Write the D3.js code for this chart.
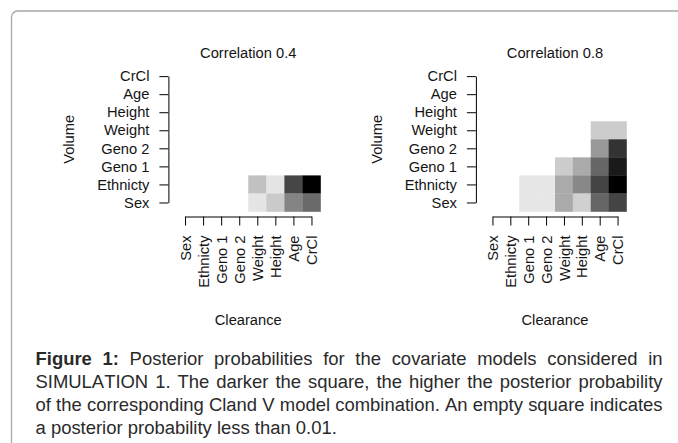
<!DOCTYPE html>
<html>
<head>
<meta charset="utf-8">
<script src="https://cdn.jsdelivr.net/npm/d3@7"></script>
<style>
  body { margin: 0; background: #fff; }
  .wrap { position: relative; width: 678px; height: 443px; overflow: hidden; }
  .caption {
    position: absolute; left: 35.5px; top: 347px; width: 627px;
    font-family: "Liberation Sans", Arial, sans-serif; font-size: 18.45px;
    font-kerning: none;
    line-height: 23px; color: #2a2a2a; text-align: justify;
  }
</style>
</head>
<body>
<div class="wrap"></div>
<script>
// covariate names, bottom-to-top on Volume axis, left-to-right on Clearance axis
const covariates = ["Sex", "Ethnicty", "Geno 1", "Geno 2", "Weight", "Height", "Age", "CrCl"];
const titles = ["Correlation 0.4", "Correlation 0.8"];

// posterior probabilities, cells < 0.01 left empty
const probs04 = [
  { clearance: "Weight", volume: "Ethnicty", p: 0.07 },
  { clearance: "Height", volume: "Ethnicty", p: 0.03 },
  { clearance: "Age", volume: "Ethnicty", p: 0.21 },
  { clearance: "CrCl", volume: "Ethnicty", p: 0.29 },
  { clearance: "Weight", volume: "Sex", p: 0.03 },
  { clearance: "Height", volume: "Sex", p: 0.06 },
  { clearance: "Age", volume: "Sex", p: 0.14 },
  { clearance: "CrCl", volume: "Sex", p: 0.17 }
];

const probs08 = [
  { clearance: "Age", volume: "Weight", p: 0.024 },
  { clearance: "CrCl", volume: "Weight", p: 0.024 },
  { clearance: "Age", volume: "Geno 2", p: 0.048 },
  { clearance: "CrCl", volume: "Geno 2", p: 0.096 },
  { clearance: "Weight", volume: "Geno 1", p: 0.024 },
  { clearance: "Height", volume: "Geno 1", p: 0.04 },
  { clearance: "Age", volume: "Geno 1", p: 0.072 },
  { clearance: "CrCl", volume: "Geno 1", p: 0.108 },
  { clearance: "Geno 1", volume: "Ethnicty", p: 0.012 },
  { clearance: "Geno 2", volume: "Ethnicty", p: 0.012 },
  { clearance: "Weight", volume: "Ethnicty", p: 0.04 },
  { clearance: "Height", volume: "Ethnicty", p: 0.056 },
  { clearance: "Age", volume: "Ethnicty", p: 0.088 },
  { clearance: "CrCl", volume: "Ethnicty", p: 0.12 },
  { clearance: "Geno 1", volume: "Sex", p: 0.012 },
  { clearance: "Geno 2", volume: "Sex", p: 0.012 },
  { clearance: "Weight", volume: "Sex", p: 0.04 },
  { clearance: "Height", volume: "Sex", p: 0.022 },
  { clearance: "Age", volume: "Sex", p: 0.072 },
  { clearance: "CrCl", volume: "Sex", p: 0.088 }
];

const captionBold = "Figure 1:";
const captionText = " Posterior probabilities for the covariate models considered in SIMULATION 1. The darker the square, the higher the posterior probability of the corresponding Cland V model combination. An empty square indicates a posterior probability less than 0.01.";

const w = 678, h = 443;
const font = "'Liberation Sans', Arial, Helvetica, sans-serif";
const ink = "#151515";

const wrap = d3.select(".wrap");
const svg = wrap.append("svg").attr("width", w).attr("height", h);

// journal frame (rounded, open to the right / bottom)
svg.append("rect")
  .attr("x", 11.5).attr("y", 11)
  .attr("width", 720).attr("height", 480)
  .attr("rx", 6)
  .attr("fill", "none")
  .attr("stroke", "#a8a8a8")
  .attr("stroke-width", 1.3);

const panels = [
  { title: titles[0], data: probs04, x0: 176, x1: 320.5 },
  { title: titles[1], data: probs08, x0: 483.5, x1: 626.5 }
];
const yBot = 211.5, yTop = 67.1;
const axisY = 216.5, axisGap = 7.6, tick = 9;

panels.forEach((pn) => {
  const g = svg.append("g")
    .style("font-family", font)
    .style("font-size", "14.7px")
    .attr("fill", ink);

  const x = d3.scaleBand().domain(covariates).range([pn.x0, pn.x1]);
  const y = d3.scaleBand().domain(covariates).range([yBot, yTop]);
  const shade = d3.scaleLinear()
    .domain([0, d3.max(pn.data, (d) => d.p)])
    .range(["#ffffff", "#000000"]);

  g.selectAll("rect.cell")
    .data(pn.data)
    .enter()
    .append("rect")
    .attr("class", "cell")
    .attr("x", (d) => x(d.clearance))
    .attr("y", (d) => y(d.volume))
    .attr("width", x.bandwidth() + 0.3)
    .attr("height", y.bandwidth() + 0.3)
    .attr("fill", (d) => shade(d.p));

  // axes span first to last tick, like R
  const xa = d3.scalePoint().domain(covariates)
    .range([x(covariates[0]) + x.bandwidth() / 2, x(covariates[7]) + x.bandwidth() / 2]);
  const ya = d3.scalePoint().domain(covariates)
    .range([y(covariates[0]) + y.bandwidth() / 2, y(covariates[7]) + y.bandwidth() / 2]);

  const gx = g.append("g")
    .attr("transform", `translate(0, ${axisY})`)
    .call(d3.axisBottom(xa).tickSize(tick).tickSizeOuter(0));
  gx.selectAll("text")
    .attr("transform", "rotate(-90)")
    .attr("x", -19)
    .attr("y", 0)
    .attr("dy", "0.35em")
    .style("text-anchor", "end");

  const gy = g.append("g")
    .attr("transform", `translate(${pn.x0 - axisGap}, 0)`)
    .call(d3.axisLeft(ya).tickSize(tick).tickPadding(10).tickSizeOuter(0));

  [gx, gy].forEach((ax) => {
    ax.attr("font-family", null).attr("font-size", null);
    ax.selectAll("text").attr("fill", ink);
    ax.selectAll("line, path").attr("stroke", "#000").attr("stroke-width", 1);
  });

  const cx = (pn.x0 + pn.x1) / 2;
  g.append("text").attr("x", cx).attr("y", 58.3)
    .attr("text-anchor", "middle").text(pn.title);
  g.append("text").attr("x", cx).attr("y", 325)
    .attr("text-anchor", "middle").text("Clearance");
  g.append("text")
    .attr("transform", `translate(${pn.x0 - axisGap - 94}, ${(yBot + yTop) / 2}) rotate(-90)`)
    .attr("text-anchor", "middle")
    .text("Volume");
});

const cap = wrap.append("div").attr("class", "caption");
cap.append("b").text(captionBold);
cap.append("span").text(captionText);
</script>
</body>
</html>
